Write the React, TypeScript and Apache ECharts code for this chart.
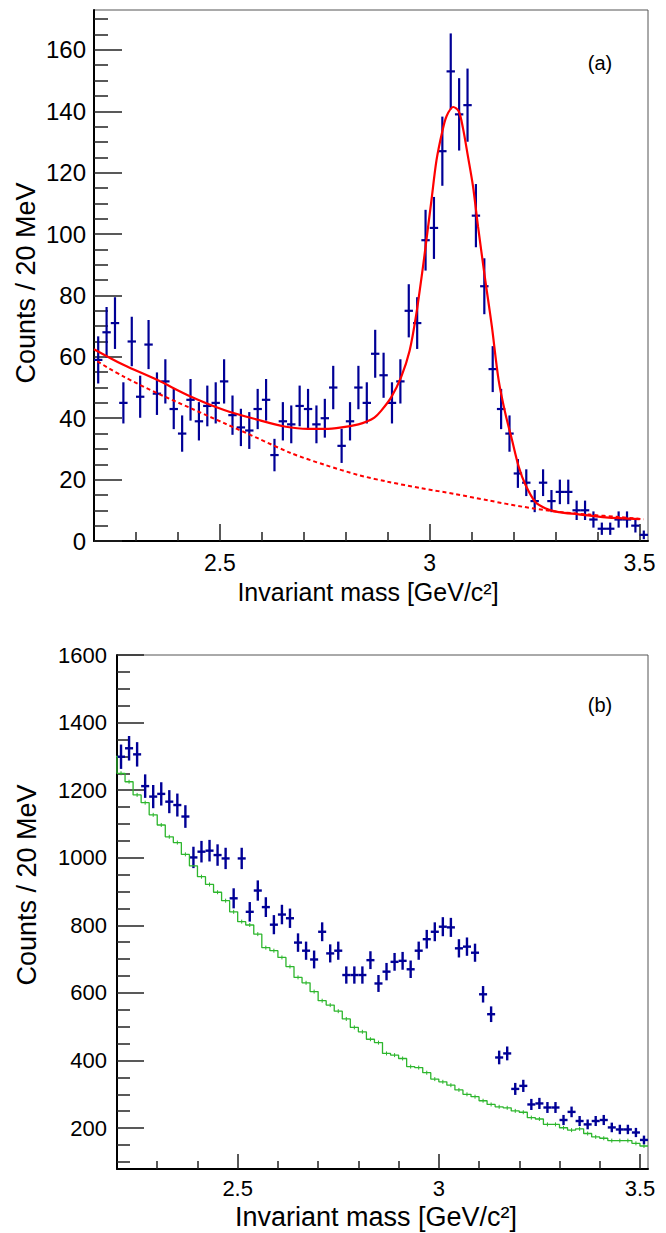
import React, { useEffect, useRef } from "react";
import * as echarts from "echarts";

// bin centres (20 MeV bins from 2.20 to 3.52 GeV/c^2)
const binCenters = [
  2.21, 2.23, 2.25, 2.27, 2.29, 2.31, 2.33, 2.35, 2.37, 2.39,
  2.41, 2.43, 2.45, 2.47, 2.49, 2.51, 2.53, 2.55, 2.57, 2.59,
  2.61, 2.63, 2.65, 2.67, 2.69, 2.71, 2.73, 2.75, 2.77, 2.79,
  2.81, 2.83, 2.85, 2.87, 2.89, 2.91, 2.93, 2.95, 2.97, 2.99,
  3.01, 3.03, 3.05, 3.07, 3.09, 3.11, 3.13, 3.15, 3.17, 3.19,
  3.21, 3.23, 3.25, 3.27, 3.29, 3.31, 3.33, 3.35, 3.37, 3.39,
  3.41, 3.43, 3.45, 3.47, 3.49, 3.51,
];

// panel (a) data counts
const countsA = [
  59, 68, 71, 45, 65, 47, 64, 48, 52, 43,
  35, 46, 39, 44, 45, 52, 41, 37, 36, 43,
  46, 28, 39, 38, 44, 43, 38, 40, 50, 31,
  39, 50, 45, 61, 54, 45, 52, 75, 71, 98,
  102, 127, 153, 139, 142, 106, 83, 56, 43, 35,
  22, 19, 13, 19, 13, 16, 16, 10, 10, 7,
  4, 4, 7, 7, 5, 2,
];

// panel (a) total fit (solid red)
const fitX = [
  2.2, 2.27, 2.35, 2.43, 2.51, 2.59, 2.654, 2.71, 2.75, 2.79,
  2.83, 2.85, 2.868, 2.884, 2.908, 2.932, 2.952, 2.968, 2.984, 2.992,
  3.004, 3.016, 3.03, 3.04, 3.056, 3.069, 3.079, 3.091, 3.103, 3.115,
  3.131, 3.139, 3.148, 3.164, 3.18, 3.196, 3.212, 3.228, 3.251, 3.275,
  3.307, 3.355, 3.419, 3.5,
];
const fitY = [
  62.5, 57.4, 52.5, 47.1, 42.7, 39.5, 37.3, 36.5, 36.5, 37.0,
  38.0, 38.9, 40.2, 42.4, 46.8, 53.5, 62.0, 74.0, 89.5, 98.0,
  111.0, 124.0, 133.5, 138.4, 141.4, 140.0, 134.6, 125.3, 115.6, 102.5,
  86.2, 78.6, 69.9, 52.5, 41.6, 32.9, 24.2, 18.3, 12.8, 10.7,
  9.4, 8.7, 7.7, 7.1,
];

// panel (a) background component (dashed red)
const bkgX = [2.208, 2.27, 2.35, 2.43, 2.51, 2.59, 2.67, 2.75, 2.83, 2.9, 2.98, 3.06, 3.14, 3.22, 3.3, 3.38, 3.45, 3.51];
const bkgY = [58.5, 53.6, 48.2, 43.3, 38.4, 33.5, 28.6, 24.8, 21.5, 19.3, 17.2, 15.3, 13.2, 11.2, 9.6, 8.6, 7.8, 7.1];

// panel (b) data counts
const countsB = [
  1299, 1324, 1306, 1212, 1181, 1189, 1166, 1156, 1122, 1001,
  1018, 1021, 1008, 998, 880, 998, 840, 903, 854, 802,
  832, 821, 749, 725, 699, 781, 717, 725, 653, 653,
  653, 697, 628, 663, 692, 695, 670, 725, 759, 781,
  796, 794, 732, 737, 719, 596, 537, 409, 421, 316,
  325, 270, 273, 261, 261, 224, 248, 221, 211, 221,
  224, 202, 196, 196, 187, 165,
];

// panel (b) simulated background histogram (green)
const mcUnderflow = 1300;
const mcB = [
  1250, 1225, 1186, 1163, 1127, 1097, 1062, 1045, 1010, 976,
  944, 921, 898, 873, 840, 811, 801, 774, 734, 725,
  705, 678, 646, 630, 604, 577, 564, 546, 523, 498,
  485, 463, 453, 421, 416, 406, 382, 379, 364, 345,
  337, 327, 313, 300, 293, 281, 270, 263, 260, 251,
  247, 231, 227, 211, 211, 201, 194, 198, 184, 174,
  170, 163, 163, 163, 155, 147,
];

// tick values
const xMajorTicks = [2.5, 3, 3.5];
const xMinorTicks = [2.3, 2.4, 2.6, 2.7, 2.8, 2.9, 3.1, 3.2, 3.3, 3.4];
const yMajorA = [0, 20, 40, 60, 80, 100, 120, 140, 160];
const yMinorA = [5, 10, 15, 25, 30, 35, 45, 50, 55, 65, 70, 75, 85, 90, 95, 105, 110, 115, 125, 130, 135, 145, 150, 155, 165, 170];
const yMajorB = [200, 400, 600, 800, 1000, 1200, 1400, 1600];
const yMinorB = [100, 150, 250, 300, 350, 450, 500, 550, 650, 700, 750, 850, 900, 950, 1050, 1100, 1150, 1250, 1300, 1350, 1450, 1500, 1550];

const BLUE = "#000096";
const RED = "#ff0000";
const GREEN = "#2db62d";
const FONT = "Liberation Sans";
const HALF_BIN = 0.01;

export default function App() {
  const ref = useRef<HTMLDivElement>(null);

  useEffect(() => {
    if (!ref.current) return;
    const chart = echarts.init(ref.current, null, { renderer: "svg" });

    const errBarRender = (lw: number) => (params: any, api: any) => {
      const x = api.value(0);
      const y = api.value(1);
      const e = Math.sqrt(y);
      const lo = api.coord([x, y - e]);
      const hi = api.coord([x, y + e]);
      const l = api.coord([x - HALF_BIN, y]);
      const r = api.coord([x + HALF_BIN, y]);
      return {
        type: "group",
        children: [
          { type: "line", shape: { x1: lo[0], y1: lo[1], x2: hi[0], y2: hi[1] }, style: { stroke: BLUE, lineWidth: lw } },
          { type: "line", shape: { x1: l[0], y1: l[1], x2: r[0], y2: r[1] }, style: { stroke: BLUE, lineWidth: lw } },
        ],
      };
    };

    const mcTickRender = (params: any, api: any) => {
      const p = api.coord([api.value(0), api.value(1)]);
      return {
        type: "line",
        shape: { x1: p[0], y1: p[1] - 2, x2: p[0], y2: p[1] + 2 },
        style: { stroke: GREEN, lineWidth: 1 },
      };
    };

    const stepData: number[][] = [[2.19, mcUnderflow], [2.2, mcUnderflow]];
    binCenters.forEach((c, i) => {
      stepData.push([c - HALF_BIN, mcB[i]]);
      stepData.push([c + HALF_BIN, mcB[i]]);
    });

    const labelStyle = { fontFamily: FONT, color: "#000" };
    const tickStyle = { color: "#222", width: 1.5 };

    const xAxes = (gridIndex: number, majorLen: number, minorLen: number, labelMargin: number, fontSize: number) => [
      {
        type: "value", gridIndex, min: 2.2, max: 3.52, position: "bottom",
        axisLine: { show: true, onZero: false, lineStyle: { color: "#000", width: 2 } },
        axisTick: { show: true, inside: true, length: majorLen, customValues: xMajorTicks, lineStyle: tickStyle },
        axisLabel: { show: true, customValues: xMajorTicks, margin: labelMargin, ...labelStyle, fontSize, formatter: (v: number) => String(v) },
        splitLine: { show: false },
      },
      {
        type: "value", gridIndex, min: 2.2, max: 3.52, position: "bottom",
        axisLine: { show: false, onZero: false },
        axisTick: { show: true, inside: true, length: minorLen, customValues: xMinorTicks, lineStyle: tickStyle },
        axisLabel: { show: false },
        splitLine: { show: false },
      },
    ];

    const yAxes = (gridIndex: number, min: number, max: number, major: number[], minor: number[], majorLen: number, minorLen: number, margin: number, fontSize: number) => [
      {
        type: "value", gridIndex, min, max, position: "left",
        axisLine: { show: true, onZero: false, lineStyle: { color: "#000", width: 2 } },
        axisTick: { show: true, inside: true, length: majorLen, customValues: major, lineStyle: tickStyle },
        axisLabel: { show: true, customValues: major, margin, ...labelStyle, fontSize, formatter: (v: number) => String(v) },
        splitLine: { show: false },
      },
      {
        type: "value", gridIndex, min, max, position: "left",
        axisLine: { show: false, onZero: false },
        axisTick: { show: true, inside: true, length: minorLen, customValues: minor, lineStyle: tickStyle },
        axisLabel: { show: false },
        splitLine: { show: false },
      },
    ];

    const titleText = (text: string, x: number, y: number, size: number, rotation = 0) => ({
      type: "text", x, y, rotation,
      style: { text, font: `${size}px "${FONT}"`, fill: "#000", textAlign: "center", textVerticalAlign: "middle" },
    });

    chart.setOption({
      animation: false,
      backgroundColor: "#fff",
      grid: [
        { left: 94, top: 10, width: 554, height: 531, show: true, borderColor: "#555", borderWidth: 1 },
        { left: 117, top: 655, width: 531, height: 514, show: true, borderColor: "#555", borderWidth: 1 },
      ],
      xAxis: [...xAxes(0, 17, 9, 10, 23), ...xAxes(1, 15, 8, 8, 22)],
      yAxis: [
        ...yAxes(0, 0, 173, yMajorA, yMinorA, 28, 14, 8, 24),
        ...yAxes(1, 79, 1600, yMajorB, yMinorB, 27, 13, 10, 22),
      ],
      graphic: [
        titleText("Counts / 20 MeV", 26, 283, 27, Math.PI / 2),
        titleText("Invariant mass [GeV/c²]", 368, 592, 25),
        titleText("(a)", 600, 63, 20),
        titleText("Counts / 20 MeV", 27, 885, 27, Math.PI / 2),
        titleText("Invariant mass [GeV/c²]", 376, 1217, 27),
        titleText("(b)", 600, 705, 20),
      ],
      series: [
        {
          type: "custom", name: "data (a)", xAxisIndex: 0, yAxisIndex: 0, clip: true,
          renderItem: errBarRender(2.2),
          data: binCenters.map((c, i) => [c, countsA[i]]),
        },
        {
          type: "line", name: "background (a)", xAxisIndex: 0, yAxisIndex: 0, symbol: "none", smooth: 0.3,
          lineStyle: { color: RED, width: 2, type: [4, 3] },
          data: bkgX.map((x, i) => [x, bkgY[i]]),
        },
        {
          type: "line", name: "fit (a)", xAxisIndex: 0, yAxisIndex: 0, symbol: "none", smooth: 0.3,
          lineStyle: { color: RED, width: 2.2 },
          data: fitX.map((x, i) => [x, fitY[i]]),
        },
        {
          type: "line", name: "MC (b)", xAxisIndex: 2, yAxisIndex: 2, symbol: "none", clip: true,
          lineStyle: { color: GREEN, width: 1.3 },
          data: stepData,
        },
        {
          type: "custom", name: "MC ticks (b)", xAxisIndex: 2, yAxisIndex: 2, clip: true,
          renderItem: mcTickRender,
          data: binCenters.map((c, i) => [c, mcB[i]]),
        },
        {
          type: "custom", name: "data (b)", xAxisIndex: 2, yAxisIndex: 2, clip: true,
          renderItem: errBarRender(2.4),
          data: binCenters.map((c, i) => [c, countsB[i]]),
        },
      ],
    });

    return () => chart.dispose();
  }, []);

  return (
    <div
      ref={ref}
      style={{ position: "absolute", left: 0, top: 0, width: 666, height: 1233, background: "#fff" }}
    />
  );
}
